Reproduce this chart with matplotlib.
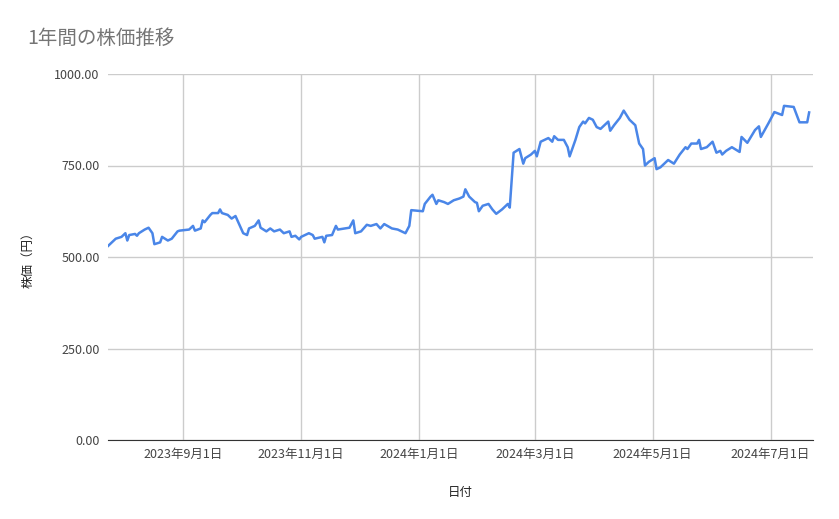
import matplotlib
matplotlib.use("Agg")
import matplotlib.pyplot as plt
import matplotlib.dates as mdates
import numpy as np
import datetime as dt

plt.rcParams['font.family'] = ['Noto Sans CJK JP', 'DejaVu Sans']

start_date = "2023-07-24"
end_date = "2024-07-23"
day_offsets = [0,2,4,7,9,10,11,14,15,16,19,21,23,24,27,28,31,33,36,37,42,44,45,48,49,50,53,54,57,58,59,62,64,66,70,72,73,76,78,79,82,84,86,89,91,94,95,97,99,100,104,106,107,111,112,113,116,118,119,125,127,128,131,134,136,139,141,143,147,150,154,156,157,163,164,167,168,170,171,174,176,179,182,184,185,187,190,191,192,194,197,199,201,204,207,208,210,213,215,216,219,221,222,224,228,230,231,233,236,238,239,242,244,246,247,249,251,253,255,259,260,262,265,267,270,273,275,277,278,280,283,284,286,288,290,293,296,299,300,302,305,306,307,310,313,315,317,318,320,323,327,328,331,335,337,338,342,345,349,350,355,358,362,363]
prices = [530,540,550,555,565,545,560,563,558,565,575,580,565,535,540,555,545,550,570,572,575,585,572,578,600,595,615,620,620,630,620,615,605,612,565,560,578,585,600,580,570,578,570,575,565,570,555,558,548,555,565,560,550,555,540,558,560,585,575,580,600,565,570,588,585,590,578,590,578,575,565,585,628,625,645,665,670,645,655,650,645,655,660,665,685,665,650,648,625,640,645,630,618,630,645,635,785,795,755,770,780,790,775,815,825,815,830,820,820,800,775,820,855,870,865,880,875,855,850,870,845,860,880,900,875,860,810,795,750,760,770,740,745,755,765,755,780,800,795,810,810,820,795,800,815,785,790,780,790,800,787,828,812,847,857,828,866,896,888,913,910,868,868,895]
yticks = [0, 250, 500, 750, 1000]
xtick_dates = ["2023-09-01", "2023-11-01", "2024-01-01", "2024-03-01", "2024-05-01", "2024-07-01"]
xtick_labels = ["2023年9月1日", "2023年11月1日", "2024年1月1日", "2024年3月1日", "2024年5月1日", "2024年7月1日"]

s = dt.date.fromisoformat(start_date)
dates = [s + dt.timedelta(days=d) for d in day_offsets]

fig = plt.figure(figsize=(8.39, 5.19), dpi=100)
ax = fig.add_axes([108/839, 79/519, 705/839, 366/519])
ax.plot(dates, prices, color='#4a86e8', lw=1.8)
ax.set_ylim(0, 1000)
ax.set_xlim(s, dt.date.fromisoformat(end_date))
ax.set_yticks(yticks)
ax.set_yticklabels([f"{v:.2f}" for v in yticks])
ax.set_xticks([dt.date.fromisoformat(d) for d in xtick_dates])
ax.set_xticklabels(xtick_labels)
ax.grid(True, color='#cccccc', lw=1)
ax.set_axisbelow(True)
for sp in ['top', 'right', 'left']:
    ax.spines[sp].set_visible(False)
ax.spines['bottom'].set_color('#333333')
ax.tick_params(length=0, labelsize=9, colors='#444444', pad=6)
ax.set_xlabel("日付", fontsize=9, color='#222222', labelpad=18)
ax.set_ylabel("株価（円）", fontsize=9, color='#222222', labelpad=14)
fig.text(27/839, 1-38/519, "1年間の株価推移", fontsize=14, color='#757575', va='center')
fig.savefig("out.png", dpi=100)
